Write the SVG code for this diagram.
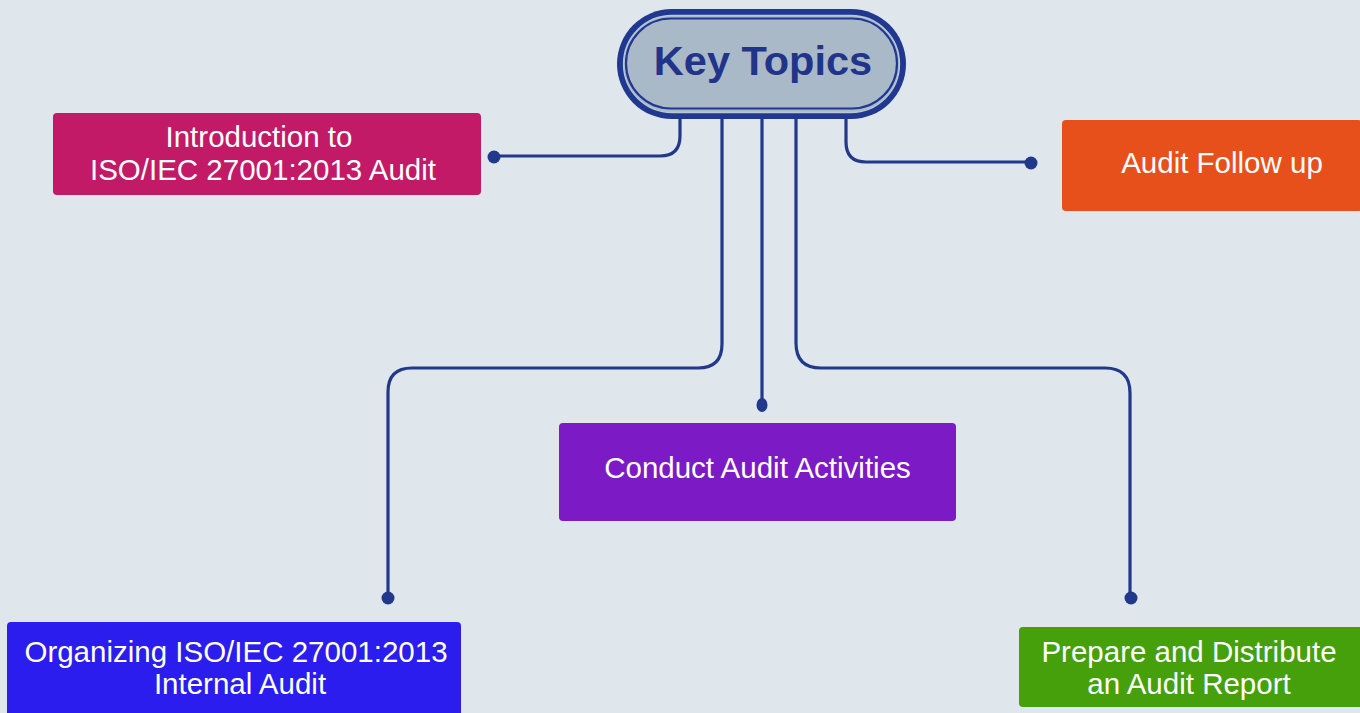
<svg xmlns="http://www.w3.org/2000/svg" width="1360" height="713" viewBox="0 0 1360 713">
<style>
.bg{fill:#dfe7ec}
.conn{fill:none;stroke:#223889;stroke-width:3.2;stroke-linecap:round}
.dot{fill:#223889}
.lbl{font-family:"Liberation Sans",Arial,sans-serif;font-size:29.5px;fill:#ffffff;text-anchor:middle}
.title{font-family:"Liberation Sans",Arial,sans-serif;font-size:41.5px;font-weight:bold;fill:#22348a;text-anchor:middle}
</style>
<rect class="bg" x="0" y="0" width="1360" height="713"/>
<g id="connectors">
<path class="conn" d="M680 112 V136 Q680 156 660 156 H494"/>
<path class="conn" d="M722 112 V344 Q722 368 698 368 H412 Q388 368 388 392 V597"/>
<path class="conn" d="M762 112 V405"/>
<path class="conn" d="M796 112 V343 Q796 368 821 368 H1105 Q1130 368 1130 393 V597"/>
<path class="conn" d="M846 112 V142 Q846 162 866 162 H1030"/>
<circle class="dot" cx="494" cy="157" r="6.5"/>
<circle class="dot" cx="1031" cy="163" r="6.5"/>
<ellipse class="dot" cx="762" cy="405" rx="5.5" ry="7"/>
<circle class="dot" cx="388" cy="598" r="6.5"/>
<circle class="dot" cx="1131" cy="598" r="6.5"/>
</g>
<g id="key-topics">
<rect x="617" y="9" width="289" height="110" rx="55" fill="#213891"/>
<rect x="623.5" y="15.5" width="276" height="97" rx="48.5" fill="#a9b9c8" stroke="#b9c8d8" stroke-width="1.3"/>
<rect x="626" y="18.5" width="271" height="90" rx="45" fill="#a9b9c8" stroke="#213891" stroke-width="2.2"/>
<text class="title" x="763" y="75">Key Topics</text>
</g>
<g id="intro">
<rect x="53" y="113" width="428" height="82" rx="4" fill="#c21a67"/>
<text class="lbl" x="259" y="147">Introduction to</text>
<text class="lbl" x="263" y="180">ISO/IEC 27001:2013 Audit</text>
</g>
<g id="follow-up">
<rect x="1062" y="120" width="300" height="91" rx="4" fill="#e8501b"/>
<text class="lbl" x="1222" y="173">Audit Follow up</text>
</g>
<g id="conduct">
<rect x="559" y="423" width="397" height="98" rx="4" fill="#7c1ac6"/>
<text class="lbl" x="757.5" y="478">Conduct Audit Activities</text>
</g>
<g id="organizing">
<rect x="7" y="622" width="454" height="100" rx="4" fill="#2a1ded"/>
<text class="lbl" x="236" y="662">Organizing ISO/IEC 27001:2013</text>
<text class="lbl" x="240" y="694">Internal Audit</text>
</g>
<g id="prepare">
<rect x="1019" y="627" width="345" height="80" rx="4" fill="#46a00b"/>
<text class="lbl" x="1189" y="662">Prepare and Distribute</text>
<text class="lbl" x="1189" y="694">an Audit Report</text>
</g>
</svg>
